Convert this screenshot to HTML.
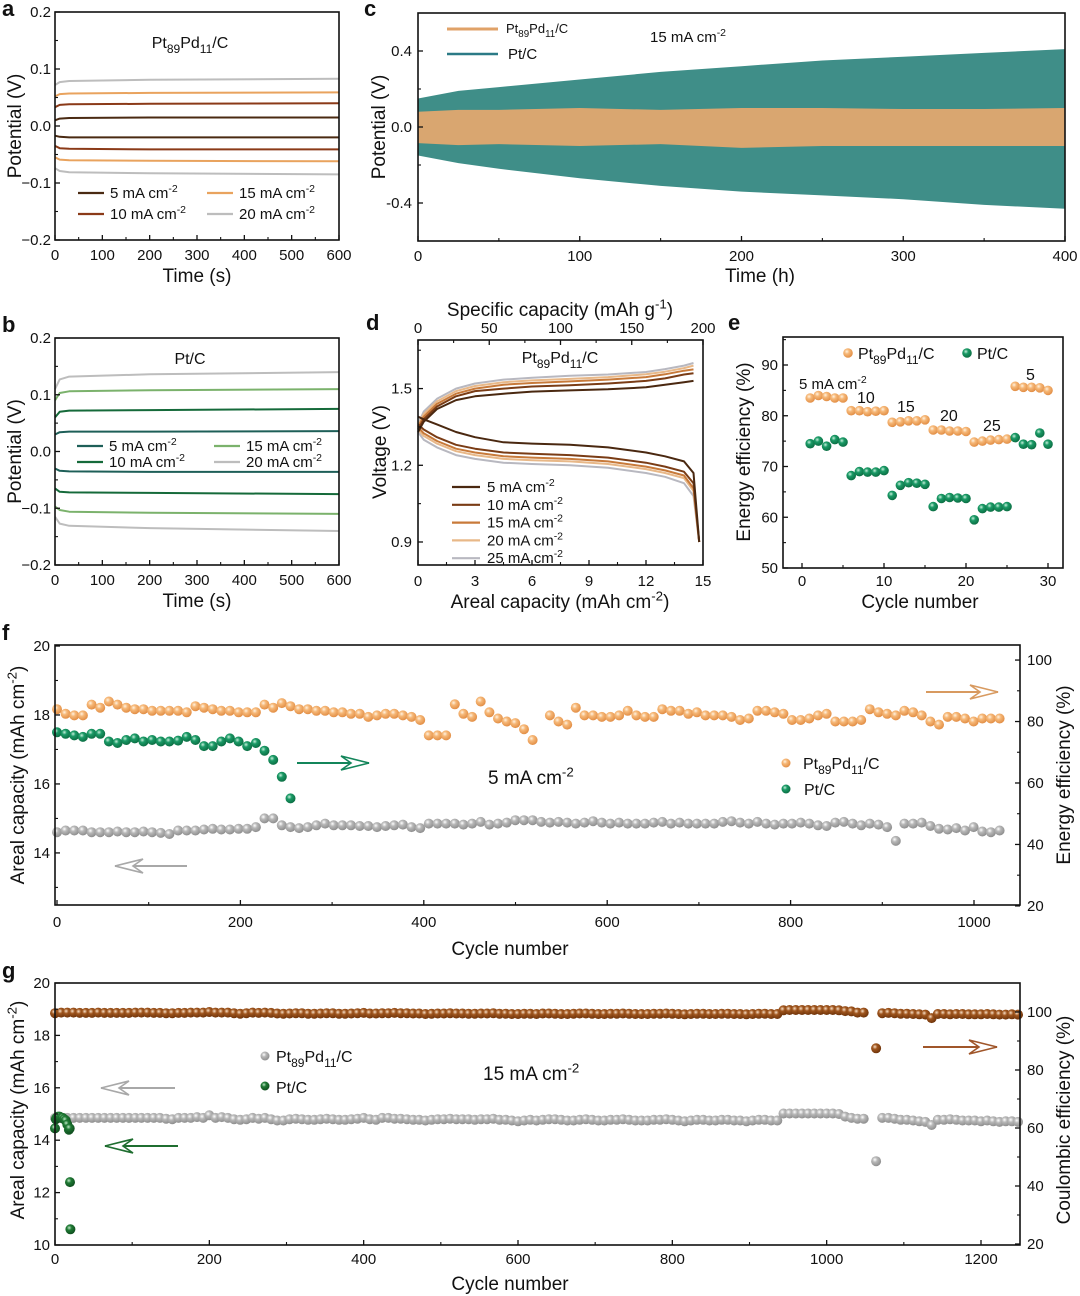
<!DOCTYPE html>
<html><head><meta charset="utf-8"><style>
html,body{margin:0;padding:0;background:#fff;}
svg{display:block;font-family:"Liberation Sans",Arial,sans-serif;}
</style></head><body>
<svg id="fig" width="1080" height="1296" viewBox="0 0 1080 1296" xmlns="http://www.w3.org/2000/svg">
<defs>
<radialGradient id="gOr" cx="0.38" cy="0.35" r="0.7"><stop offset="0" stop-color="#fff3e2"/><stop offset="0.35" stop-color="#f6b878"/><stop offset="1" stop-color="#e08a40"/></radialGradient>
<radialGradient id="gGr" cx="0.38" cy="0.35" r="0.7"><stop offset="0" stop-color="#c8f0dc"/><stop offset="0.35" stop-color="#1a9a66"/><stop offset="1" stop-color="#0a6a40"/></radialGradient>
<radialGradient id="gGy" cx="0.38" cy="0.35" r="0.7"><stop offset="0" stop-color="#ffffff"/><stop offset="0.35" stop-color="#b8b8b8"/><stop offset="1" stop-color="#8a8a8a"/></radialGradient>
<radialGradient id="gBr" cx="0.38" cy="0.35" r="0.7"><stop offset="0" stop-color="#f8e0c8"/><stop offset="0.35" stop-color="#a0561e"/><stop offset="1" stop-color="#6a3008"/></radialGradient>
<radialGradient id="gDg" cx="0.38" cy="0.35" r="0.7"><stop offset="0" stop-color="#c0e8c8"/><stop offset="0.35" stop-color="#1f7a34"/><stop offset="1" stop-color="#0e4a1c"/></radialGradient>
</defs>
</svg>
<script>
// ---------- DATA ----------
// panel a / b (Time s)
const abTimes = [0, 10, 30, 200, 600];
const aCurrents = ["5", "10", "15", "20"];
const aUpper = [[0.010,0.013,0.014,0.015,0.015],[0.033,0.037,0.038,0.039,0.040],[0.052,0.056,0.057,0.058,0.059],[0.072,0.077,0.079,0.081,0.083]];
const aLower = [[-0.017,-0.019,-0.020,-0.020,-0.020],[-0.035,-0.039,-0.040,-0.041,-0.041],[-0.055,-0.059,-0.060,-0.061,-0.062],[-0.074,-0.079,-0.081,-0.083,-0.085]];
const bUpper = [[0.030,0.034,0.035,0.035,0.036],[0.060,0.070,0.072,0.073,0.075],[0.090,0.103,0.106,0.108,0.110],[0.110,0.127,0.132,0.136,0.140]];
const bLower = [[-0.030,-0.034,-0.035,-0.036,-0.036],[-0.065,-0.071,-0.072,-0.073,-0.075],[-0.097,-0.103,-0.106,-0.108,-0.110],[-0.115,-0.127,-0.131,-0.135,-0.140]];
const abTickLabels = ["0.2","0.1","0.0","\u22120.1","\u22120.2"];
const abTickValues = [0.2,0.1,0,-0.1,-0.2];
const timeTicks = [0,100,200,300,400,500,600];
// panel c (Time h)
const cHours = [0,25,50,100,150,200,250,300,350,400];
const cPtCUpper = [0.15,0.19,0.21,0.25,0.29,0.32,0.35,0.37,0.39,0.41];
const cPtCLower = [-0.15,-0.19,-0.22,-0.27,-0.31,-0.34,-0.36,-0.38,-0.41,-0.43];
const cPtPdUpper = [0.08,0.09,0.09,0.10,0.09,0.10,0.10,0.095,0.095,0.10];
const cPtPdLower = [-0.085,-0.095,-0.09,-0.10,-0.09,-0.11,-0.10,-0.10,-0.10,-0.10];
const cTicksY = [0.4,0,-0.4];
const cTickLabelsY = ["0.4","0.0","-0.4"];
const cTicksX = [0,100,200,300,400];
// panel d
const dCharCap = [0,0.3,1,2,3,4.5,6,8,10,12,13,14,14.5];
const dDisCap = [0,0.3,1,2,3,4.5,6,8,10,12,13,14,14.5,14.8];
const dCurrents = ["5","10","15","20","25"];
const dCharge = [
 [1.33,1.37,1.42,1.455,1.47,1.48,1.488,1.493,1.497,1.505,1.515,1.525,1.53],
 [1.34,1.38,1.43,1.47,1.49,1.50,1.508,1.513,1.52,1.53,1.54,1.555,1.56],
 [1.35,1.39,1.44,1.48,1.50,1.515,1.522,1.528,1.535,1.545,1.556,1.57,1.575],
 [1.355,1.40,1.45,1.49,1.51,1.525,1.532,1.538,1.545,1.556,1.566,1.58,1.59],
 [1.36,1.41,1.46,1.50,1.52,1.535,1.542,1.55,1.555,1.565,1.576,1.59,1.60]];
const dDischarge = [
 [1.39,1.38,1.36,1.33,1.31,1.29,1.285,1.28,1.27,1.25,1.235,1.215,1.17,0.90],
 [1.36,1.34,1.31,1.28,1.265,1.25,1.245,1.24,1.23,1.21,1.195,1.175,1.13,0.90],
 [1.35,1.325,1.295,1.265,1.25,1.235,1.23,1.225,1.215,1.195,1.18,1.16,1.11,0.90],
 [1.34,1.315,1.285,1.255,1.24,1.225,1.22,1.215,1.205,1.185,1.17,1.15,1.10,0.90],
 [1.33,1.30,1.27,1.24,1.225,1.21,1.205,1.20,1.19,1.17,1.155,1.13,1.08,0.90]];
const dTicksY = [1.5,1.2,0.9];
const dTickLabelsY = ["1.5","1.2","0.9"];
const dTicksX = [0,3,6,9,12,15];
const dTicksTop = [0,50,100,150,200];
// panel e
const eCycles = [1,2,3,4,5,6,7,8,9,10,11,12,13,14,15,16,17,18,19,20,21,22,23,24,25,26,27,28,29,30];
const ePtPd = [83.5,84,83.8,83.5,83.5,81,81,80.8,80.9,81,78.7,78.8,79,79,79.2,77.2,77.2,77,77,76.9,74.8,75,75.2,75.3,75.4,85.8,85.6,85.6,85.5,85];
const ePtC = [74.5,75,74,75.3,74.8,68.2,69,68.9,68.9,69.2,64.3,66.3,66.8,66.7,66.5,62.1,63.7,63.9,63.8,63.7,59.5,61.7,62,62,62.1,75.7,74.4,74.3,76.6,74.4];
const eTicksY = [50,60,70,80,90];
const eTicksX = [0,10,20,30];
// panel f (step in cycles per index)
const fStep = 9.43;
const fCapPtPd = [14.6,14.65,14.65,14.65,14.6,14.6,14.6,14.62,14.6,14.6,14.62,14.6,14.58,14.55,
 14.65,14.65,14.65,14.68,14.7,14.68,14.68,14.7,14.7,14.75,15.0,15.0,
 14.8,14.75,14.72,14.75,14.8,14.85,14.8,14.8,14.8,14.78,14.78,14.75,14.78,14.8,14.82,14.75,14.72,
 14.85,14.85,14.85,14.85,14.82,14.85,14.9,14.82,14.85,14.88,14.95,14.95,14.95,14.9,14.88,14.9,14.88,14.85,14.88,14.92,
 14.88,14.85,14.88,14.85,14.85,14.85,14.88,14.9,14.85,14.88,14.85,14.85,14.85,14.85,14.9,14.92,14.88,14.85,14.9,14.85,14.82,14.85,14.85,14.88,14.85,14.8,14.78,14.88,14.9,14.85,14.8,14.85,14.82,
 14.75,14.35,14.85,14.85,14.88,14.78,14.7,14.68,14.72,14.65,14.75,14.62,14.6,14.65];
const fEEPtPd = [84,82.5,82,82,85.5,84.5,86.5,85.5,84.5,84,84,83.5,83.5,83.5,83.5,83,85,84.5,84,83.5,83.5,83,83,83,85.5,84.5,86,85,84,84,83.5,83.5,83,83,82.5,82.5,81.5,82,82.5,82.5,
 82,81.5,80.5,75.5,75.5,75.5,85.6,82.5,81.5,86.5,83,81,80,79.5,77.5,74,null,82,80,79,84.5,
 82,82,81.5,81.5,82,83.5,82,81.5,81.5,84,83.5,83.5,82.5,83,82,82,82,81.5,80.5,81,83.5,83.5,83,82.5,80.5,80.5,81,82,82.5,80,80,80,80.5,84,83,82.5,82,83.5,83,82,80,79,81.5,81.5,81,80,81,81,81];
const fEEPtC = [76.5,76,75.5,75,76,76,73.5,73,74,74.5,73.5,74,73.5,73.5,73.8,75,74,72,72,73.5,74.5,73.5,72,73,70.5,67.5,62,55];
const fTicksL = [14,16,18,20];
const fTicksR = [20,40,60,80,100];
const fTicksX = [0,200,400,600,800,1000];
// panel g
const gStep = 8;
const gCEPtPd = [99.6,99.8,99.8,99.8,99.7,99.7,99.7,99.8,99.7,99.7,
99.7,99.7,99.7,99.8,99.8,99.8,99.7,99.7,99.6,99.6,
99.7,99.7,99.8,99.8,99.8,100,99.8,99.8,99.8,99.6,
99.4,99.6,99.8,99.7,99.8,99.7,99.5,99.4,99.5,99.6,
99.6,99.4,99.4,99.5,99.6,99.6,99.4,99.4,99.5,99.6,
99.7,99.5,99.5,99.6,99.6,99.7,99.6,99.6,99.5,99.5,
99.3,99.4,99.5,99.5,99.6,99.5,99.5,99.4,99.4,99.5,
99.5,99.6,99.4,99.4,99.3,99.3,99.4,99.4,99.3,99.5,
99.5,99.4,99.3,99.3,99.4,99.5,99.5,99.4,99.3,99.3,
99.4,99.4,99.5,99.4,99.3,99.3,99.3,99.4,99.4,99.5,
99.4,99.3,99.2,99.3,99.4,99.4,99.3,99.3,99.4,99.4,
99.3,99.3,99.2,99.3,99.4,99.4,99.3,99.3,100.6,100.7,
100.7,100.7,100.7,100.7,100.7,100.7,100.7,100.6,100.3,100.2,
99.8,99.8,null,87.5,99.6,99.7,99.6,99.4,99.4,99.3,
99.2,99.1,97.9,99.3,99.3,99.2,99.3,99.3,99.2,99.2,
99.2,99.3,99.2,99.1,99.1,99.2,99.1];
const gCapPtPd = [14.85,14.85,14.85,14.85,14.85,14.85,14.85,14.85,14.85,14.85,
14.85,14.85,14.85,14.85,14.85,14.85,14.85,14.85,14.82,14.8,
14.85,14.85,14.85,14.88,14.85,14.95,14.85,14.88,14.85,14.8,
14.78,14.8,14.85,14.82,14.85,14.8,14.75,14.75,14.8,14.82,
14.8,14.78,14.78,14.8,14.82,14.8,14.78,14.78,14.8,14.82,
14.85,14.8,14.78,14.85,14.85,14.82,14.82,14.8,14.78,14.78,
14.75,14.78,14.8,14.8,14.82,14.8,14.8,14.8,14.78,14.8,
14.8,14.82,14.78,14.78,14.75,14.72,14.75,14.78,14.75,14.78,
14.8,14.8,14.78,14.75,14.75,14.78,14.8,14.78,14.75,14.75,
14.78,14.78,14.8,14.78,14.75,14.75,14.75,14.78,14.78,14.8,
14.78,14.75,14.72,14.75,14.78,14.78,14.75,14.75,14.78,14.78,
14.75,14.75,14.72,14.75,14.78,14.78,14.75,14.75,15.02,15.02,
15.02,15.02,15.02,15.02,15.02,15.02,15.02,15.0,14.9,14.85,
14.82,14.82,null,13.2,14.85,14.85,14.82,14.78,14.78,14.75,
14.72,14.7,14.58,14.78,14.78,14.8,14.78,14.75,14.75,14.75,
14.72,14.75,14.72,14.7,14.72,14.72,14.7];
const gCyclesPtC = [0,1,2,4,6,8,10,12,14,16,18,19,19.5,20];
const gCapPtC = [14.45,14.8,14.85,14.9,14.9,14.85,14.85,14.8,14.75,14.6,14.4,14.45,12.4,10.6];
const gTicksL = [10,12,14,16,18,20];
const gTicksR = [20,40,60,80,100];
const gTicksX = [0,200,400,600,800,1000,1200];

// ---------- HELPERS ----------
const NS = "http://www.w3.org/2000/svg";
const svg = document.getElementById("fig");
function mk(tag, attrs, name, parent){
  const e = document.createElementNS(NS, tag);
  for (const k in attrs) e.setAttribute(k, attrs[k]);
  
  
  (parent || svg).appendChild(e);
  return e;
}
function lin(d0,d1,r0,r1){ return v => r0 + (v-d0)/(d1-d0)*(r1-r0); }
function txt(x,y,s,name,opt){
  opt = opt || {};
  const t = mk("text", {x:x, y:y, "font-size":opt.size||15, "text-anchor":opt.anchor||"start", fill:opt.fill||"#111", "font-weight":opt.weight||"normal"}, name);
  if (opt.rot) t.setAttribute("transform", "rotate("+opt.rot+" "+x+" "+y+")");
  const parts = s.split(/(_\{[^}]*\}|\^\{[^}]*\})/);
  let shift = 0;
  parts.forEach(p => {
    if (!p) return;
    const ts = document.createElementNS(NS, "tspan");
    let target = 0, content = p;
    if (p.startsWith("_{")) { target = 0.3; content = p.slice(2,-1); ts.setAttribute("font-size", "0.75em"); }
    else if (p.startsWith("^{")) { target = -0.4; content = p.slice(2,-1); ts.setAttribute("font-size", "0.7em"); }
    const fs = opt.size||15;
    const dy = (target - shift) * fs;
    if (dy !== 0) ts.setAttribute("dy", dy.toFixed(1));
    shift = target;
    ts.textContent = content;
    t.appendChild(ts);
  });
  return t;
}
function frame(x0,y0,x1,y1,name){ mk("rect",{x:x0,y:y0,width:x1-x0,height:y1-y0,fill:"none",stroke:"#111","stroke-width":1.6},name); }
function xTicks(X, vals, labels, minor, yb, dir, ly, name, size){
  vals.forEach((v,i)=>{
    mk("line",{x1:X(v),x2:X(v),y1:yb,y2:yb+dir*5,stroke:"#111","stroke-width":1.3},name+"-tick");
    if (labels) txt(X(v), ly, labels[i], name+"-label", {anchor:"middle", size:size||15});
  });
  (minor||[]).forEach(v=>{ mk("line",{x1:X(v),x2:X(v),y1:yb,y2:yb+dir*3,stroke:"#111","stroke-width":1.1},name+"-minor-tick"); });
}
function yTicks(Y, vals, labels, minor, xb, dir, lx, anchor, name, size){
  vals.forEach((v,i)=>{
    mk("line",{x1:xb,x2:xb+dir*5,y1:Y(v),y2:Y(v),stroke:"#111","stroke-width":1.3},name+"-tick");
    if (labels) txt(lx, Y(v)+5, labels[i], name+"-label", {anchor:anchor, size:size||15});
  });
  (minor||[]).forEach(v=>{ mk("line",{x1:xb,x2:xb+dir*3,y1:Y(v),y2:Y(v),stroke:"#111","stroke-width":1.1},name+"-minor-tick"); });
}
function poly(X,Y,xs,ys,color,w,name){
  const pts = xs.map((x,i)=>X(x).toFixed(1)+","+Y(ys[i]).toFixed(1)).join(" ");
  mk("polyline",{points:pts,fill:"none",stroke:color,"stroke-width":w,"stroke-linejoin":"round"},name);
}
function dot(x,y,r,grad,name){ mk("circle",{cx:x.toFixed(1),cy:y.toFixed(1),r:r,fill:"url(#"+grad+")"},name); }
function arrow(x0,x1,y,color,name){
  mk("line",{x1:x0,x2:x1,y1:y,y2:y,stroke:color,"stroke-width":2},name);
  const d = x1>x0?1:-1;
  mk("path",{d:"M"+x1+","+y+" L"+(x1-d*28)+","+(y-7)+" L"+(x1-d*18)+","+y+" L"+(x1-d*28)+","+(y+7)+" Z",fill:"#fff",stroke:color,"stroke-width":1.6,"stroke-linejoin":"miter"},name+"-head");
}
function range(a,b,s){ const r=[]; for(let v=a; v<=b+1e-9; v+=s) r.push(+v.toFixed(4)); return r; }

// ---------- PANEL LETTERS ----------
[["a",2,16],["c",364,16],["b",2,332],["d",366,330],["e",728,330],["f",2,640],["g",2,978]].forEach(l=>{
  txt(l[1],l[2],l[0],"panel-letter-"+l[0],{size:22,weight:"bold"});
});

// ---------- PANEL A & B ----------
function panelAB(key, y0, y1, upper, lower, colors, title, legendY, legX){
  const X = lin(0,600,55,339), Y = lin(-0.2,0.2,y1,y0);
  upper.forEach((s,i)=>{
    poly(X,Y,abTimes,s,colors[i],2,key+"-charge-"+aCurrents[i]+"mA");
    poly(X,Y,abTimes,lower[i],colors[i],2,key+"-discharge-"+aCurrents[i]+"mA");
  });
  frame(55,y0,339,y1,key+"-plot-frame");
  xTicks(X,timeTicks,timeTicks.map(String),range(50,550,100),y1,-1,y1+20,key+"-x-axis");
  yTicks(Y,abTickValues,abTickLabels,[0.15,0.05,-0.05,-0.15],55,1,51,"end",key+"-y-axis");
  txt(197,y1+42,"Time (s)",key+"-x-axis-title",{anchor:"middle",size:19});
  txt(21,(y0+y1)/2,"Potential (V)",key+"-y-axis-title",{anchor:"middle",size:19,rot:-90});
  txt(title[1],title[2],title[0],key+"-title",{anchor:"middle",size:16});
  aCurrents.forEach((c,i)=>{
    const col = i<2?0:1, row = i%2;
    const lx = legX[col], ly = legendY[row];
    mk("line",{x1:lx,x2:lx+26,y1:ly-5,y2:ly-5,stroke:colors[i],"stroke-width":2.2},key+"-legend-line-"+c);
    txt(lx+32,ly,c+" mA cm^{-2}",key+"-legend-entry-"+c,{size:15});
  });
}
panelAB("a",12,240,aUpper,aLower,["#4a2a12","#8b3a18","#e9a35e","#bdbdbd"],["Pt_{89}Pd_{11}/C",190,48],[198,219],[78,207]);
panelAB("b",338,565,bUpper,bLower,["#1e5f58","#156a3a","#7bb26c","#bdbdbd"],["Pt/C",190,364],[451,467],[77,214]);

// ---------- PANEL C ----------
(function(){
  const X = lin(0,400,418,1065), Y = lin(-0.6,0.6,241,13);
  function band(up,lo,color,name){
    const pts = cHours.map((h,i)=>X(h).toFixed(1)+","+Y(up[i]).toFixed(1));
    const pts2 = cHours.slice().reverse().map((h,j)=>{const i=cHours.length-1-j; return X(h).toFixed(1)+","+Y(lo[i]).toFixed(1);});
    mk("polygon",{points:pts.concat(pts2).join(" "),fill:color},name);
  }
  band(cPtCUpper,cPtCLower,"#3f8e88","c-ptc-voltage-band");
  band(cPtPdUpper,cPtPdLower,"#d9a670","c-ptpd-voltage-band");
  frame(418,13,1065,241,"c-plot-frame");
  xTicks(X,cTicksX,cTicksX.map(String),[50,150,250,350],241,-1,261,"c-x-axis");
  yTicks(Y,cTicksY,cTickLabelsY,[0.2,-0.2],418,1,412,"end","c-y-axis");
  txt(760,282,"Time (h)","c-x-axis-title",{anchor:"middle",size:19});
  txt(385,127,"Potential (V)","c-y-axis-title",{anchor:"middle",size:19,rot:-90});
  mk("line",{x1:447,x2:498,y1:29,y2:29,stroke:"#e0a268","stroke-width":3},"c-legend-line-ptpd");
  txt(506,33,"Pt_{89}Pd_{11}/C","c-legend-entry-ptpd",{size:13});
  mk("line",{x1:447,x2:498,y1:54,y2:54,stroke:"#2b7a86","stroke-width":2.5},"c-legend-line-ptc");
  txt(508,59,"Pt/C","c-legend-entry-ptc",{size:15});
  txt(650,42,"15 mA cm^{-2}","c-current-label",{size:15});
})();

// ---------- PANEL D ----------
(function(){
  const X = lin(0,15,418,703), Y = lin(0.81,1.69,565,340);
  const cols = ["#4a2810","#7a3c15","#c87a3a","#e8b888","#b8b8c0"];
  for (let i=dCurrents.length-1;i>=0;i--){
    poly(X,Y,dCharCap,dCharge[i],cols[i],2,"d-charge-"+dCurrents[i]+"mA");
    poly(X,Y,dDisCap,dDischarge[i],cols[i],2,"d-discharge-"+dCurrents[i]+"mA");
  }
  frame(418,340,703,565,"d-plot-frame");
  xTicks(X,dTicksX,dTicksX.map(String),[1.5,4.5,7.5,10.5,13.5],565,-1,586,"d-x-axis");
  const XT = lin(0,200,418,703);
  xTicks(XT,dTicksTop,dTicksTop.map(String),[25,75,125,175],340,1,333,"d-top-axis");
  yTicks(Y,dTicksY,dTickLabelsY,[1.65,1.35,1.05],418,1,412,"end","d-y-axis");
  txt(560,608,"Areal capacity (mAh cm^{-2})","d-x-axis-title",{anchor:"middle",size:19});
  txt(560,316,"Specific capacity (mAh g^{-1})","d-top-axis-title",{anchor:"middle",size:19});
  txt(386,452,"Voltage (V)","d-y-axis-title",{anchor:"middle",size:19,rot:-90});
  txt(560,363,"Pt_{89}Pd_{11}/C","d-title",{anchor:"middle",size:16});
  dCurrents.forEach((c,i)=>{
    const ly = 492 + i*17.8;
    mk("line",{x1:452,x2:480,y1:ly-5,y2:ly-5,stroke:cols[i],"stroke-width":2.2},"d-legend-line-"+c);
    txt(487,ly,c+" mA cm^{-2}","d-legend-entry-"+c,{size:15});
  });
})();

// ---------- PANEL E ----------
(function(){
  const X = lin(0,30,802,1048), Y = lin(50,90,568,365);
  eCycles.forEach((c,i)=>{ dot(X(c),Y(ePtPd[i]),4.8,"gOr","e-ptpd-point"); });
  eCycles.forEach((c,i)=>{ dot(X(c),Y(ePtC[i]),4.8,"gGr","e-ptc-point"); });
  frame(783,337,1063,568,"e-plot-frame");
  xTicks(X,eTicksX,eTicksX.map(String),[5,15,25],568,-1,586,"e-x-axis");
  yTicks(Y,eTicksY,eTicksY.map(String),[55,65,75,85,95],783,1,778,"end","e-y-axis");
  txt(920,608,"Cycle number","e-x-axis-title",{anchor:"middle",size:19});
  txt(750,452,"Energy efficiency (%)","e-y-axis-title",{anchor:"middle",size:19,rot:-90});
  dot(848,353,4.8,"gOr","e-legend-marker-ptpd");
  txt(858,359,"Pt_{89}Pd_{11}/C","e-legend-entry-ptpd",{size:16});
  dot(967,353,4.8,"gGr","e-legend-marker-ptc");
  txt(977,359,"Pt/C","e-legend-entry-ptc",{size:16});
  txt(799,389,"5 mA cm^{-2}","e-label-5mA",{size:15});
  txt(857,403,"10","e-label-10",{size:16});
  txt(897,412,"15","e-label-15",{size:16});
  txt(940,421,"20","e-label-20",{size:16});
  txt(983,431,"25","e-label-25",{size:16});
  txt(1026,380,"5","e-label-5",{size:16});
})();

// ---------- PANEL F ----------
(function(){
  const X = lin(0,1000,57,974), YL = lin(12.49,20,905,646), YR = lin(20.3,104.9,905,645);
  fEEPtPd.forEach((v,i)=>{ if(v!==null) dot(X(i*fStep),YR(v),5,"gOr","f-ptpd-energy-efficiency-point"); });
  fEEPtC.forEach((v,i)=>{ dot(X(i*fStep),YR(v),5,"gGr","f-ptc-energy-efficiency-point"); });
  fCapPtPd.forEach((v,i)=>{ if(v!==null) dot(X(i*fStep),YL(v),5,"gGy","f-ptpd-capacity-point"); });
  frame(55,645,1020,905,"f-plot-frame");
  xTicks(X,fTicksX,fTicksX.map(String),[100,300,500,700,900],905,-1,927,"f-x-axis");
  yTicks(YL,fTicksL,fTicksL.map(String),[13,15,17,19],55,1,50,"end","f-left-axis");
  yTicks(YR,fTicksR,fTicksR.map(String),[30,50,70,90],1020,-1,1027,"start","f-right-axis");
  txt(510,955,"Cycle number","f-x-axis-title",{anchor:"middle",size:19});
  txt(24,775,"Areal capacity (mAh cm^{-2})","f-left-axis-title",{anchor:"middle",size:19,rot:-90});
  txt(1070,775,"Energy efficiency (%)","f-right-axis-title",{anchor:"middle",size:19,rot:-90});
  txt(488,784,"5 mA cm^{-2}","f-current-label",{size:19});
  dot(786,763,4.5,"gOr","f-legend-marker-ptpd");
  txt(803,769,"Pt_{89}Pd_{11}/C","f-legend-entry-ptpd",{size:16});
  dot(786,789,4.5,"gGr","f-legend-marker-ptc");
  txt(804,795,"Pt/C","f-legend-entry-ptc",{size:16});
  arrow(926,998,692,"#d89a60","f-arrow-ptpd-right");
  arrow(297,369,763,"#13855a","f-arrow-ptc-right");
  arrow(187,115,866,"#a8a8a8","f-arrow-capacity-left");
})();

// ---------- PANEL G ----------
(function(){
  const X = lin(0,1200,55,981), YL = lin(10,20,1245,983), YR = lin(20,100,1244,1012);
  gCEPtPd.forEach((v,i)=>{ if(v!==null) dot(X(i*gStep),YR(v),5,"gBr","g-ptpd-coulombic-efficiency-point"); });
  gCapPtPd.forEach((v,i)=>{ if(v!==null) dot(X(i*gStep),YL(v),5,"gGy","g-ptpd-capacity-point"); });
  gCyclesPtC.forEach((c,i)=>{ dot(X(c),YL(gCapPtC[i]),5,"gDg","g-ptc-capacity-point"); });
  frame(55,983,1020,1245,"g-plot-frame");
  xTicks(X,gTicksX,gTicksX.map(String),[100,300,500,700,900,1100],1245,-1,1264,"g-x-axis");
  yTicks(YL,gTicksL,gTicksL.map(String),[11,13,15,17,19],55,1,50,"end","g-left-axis");
  yTicks(YR,gTicksR,gTicksR.map(String),[30,50,70,90],1020,-1,1027,"start","g-right-axis");
  txt(510,1290,"Cycle number","g-x-axis-title",{anchor:"middle",size:19});
  txt(24,1110,"Areal capacity (mAh cm^{-2})","g-left-axis-title",{anchor:"middle",size:19,rot:-90});
  txt(1070,1120,"Coulombic efficiency (%)","g-right-axis-title",{anchor:"middle",size:19,rot:-90});
  txt(483,1080,"15 mA cm^{-2}","g-current-label",{size:19});
  dot(265,1056,4.5,"gGy","g-legend-marker-ptpd");
  txt(276,1062,"Pt_{89}Pd_{11}/C","g-legend-entry-ptpd",{size:16});
  dot(265,1086,4.5,"gDg","g-legend-marker-ptc");
  txt(276,1093,"Pt/C","g-legend-entry-ptc",{size:16});
  arrow(175,101,1088,"#a8a8a8","g-arrow-capacity-left");
  arrow(178,105,1146,"#1f6e30","g-arrow-ptc-left");
  arrow(923,997,1047,"#a0562a","g-arrow-ce-right");
})();
</script>
</body></html>
